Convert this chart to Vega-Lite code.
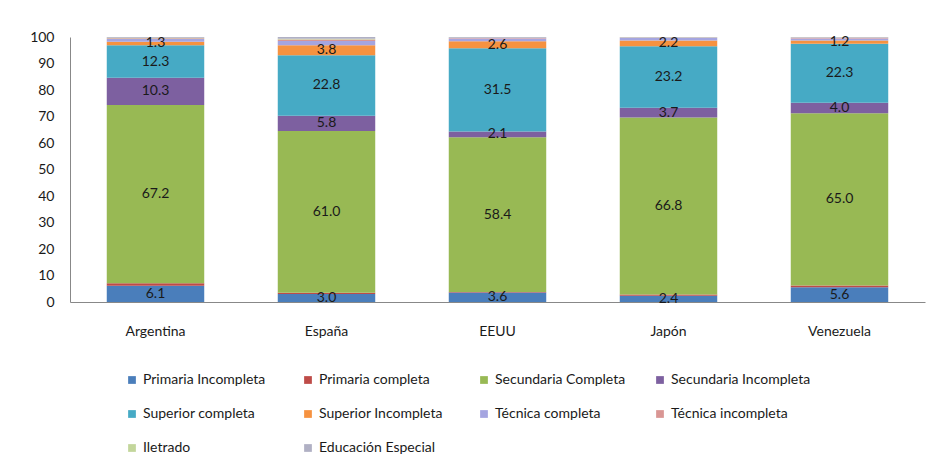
{
  "$schema": "https://vega.github.io/schema/vega-lite/v6.json",
  "width": 855,
  "height": 265,
  "autosize": {"type": "none"},
  "padding": {"left": 70, "top": 37, "right": 3, "bottom": 163},
  "background": "white",
  "config": {
    "view": {"stroke": null},
    "font": "Lato",
    "axis": {"labelFont": "Lato", "labelColor": "#1a1a1a", "labelFontSize": 14, "domainColor": "#888888", "domainWidth": 1, "ticks": false, "grid": false, "title": null, "labelOverlap": false},
    "axisY": {"domain": true, "domainColor": "#888888", "domainWidth": 1},
    "axisQuantitative": {"domain": true},
    "legend": {"labelFont": "Lato", "labelFontSize": 14, "labelColor": "#1a1a1a"}
  },
  "data": {
    "values": [
      {"country": "Argentina", "cat": "Primaria Incompleta", "ord": 1, "v": 6.1},
      {"country": "Argentina", "cat": "Primaria completa", "ord": 2, "v": 1.0},
      {"country": "Argentina", "cat": "Secundaria Completa", "ord": 3, "v": 67.2},
      {"country": "Argentina", "cat": "Secundaria Incompleta", "ord": 4, "v": 10.3},
      {"country": "Argentina", "cat": "Superior completa", "ord": 5, "v": 12.3},
      {"country": "Argentina", "cat": "Superior Incompleta", "ord": 6, "v": 1.3},
      {"country": "Argentina", "cat": "Técnica completa", "ord": 7, "v": 1.0},
      {"country": "Argentina", "cat": "Técnica incompleta", "ord": 8, "v": 0.3},
      {"country": "Argentina", "cat": "Iletrado", "ord": 9, "v": 0.2},
      {"country": "Argentina", "cat": "Educación Especial", "ord": 10, "v": 0.3},
      {"country": "España", "cat": "Primaria Incompleta", "ord": 1, "v": 3.0},
      {"country": "España", "cat": "Primaria completa", "ord": 2, "v": 0.5},
      {"country": "España", "cat": "Secundaria Completa", "ord": 3, "v": 61.0},
      {"country": "España", "cat": "Secundaria Incompleta", "ord": 4, "v": 5.8},
      {"country": "España", "cat": "Superior completa", "ord": 5, "v": 22.8},
      {"country": "España", "cat": "Superior Incompleta", "ord": 6, "v": 3.8},
      {"country": "España", "cat": "Técnica completa", "ord": 7, "v": 1.6},
      {"country": "España", "cat": "Técnica incompleta", "ord": 8, "v": 0.6},
      {"country": "España", "cat": "Iletrado", "ord": 9, "v": 0.2},
      {"country": "España", "cat": "Educación Especial", "ord": 10, "v": 0.7},
      {"country": "EEUU", "cat": "Primaria Incompleta", "ord": 1, "v": 3.6},
      {"country": "EEUU", "cat": "Primaria completa", "ord": 2, "v": 0.2},
      {"country": "EEUU", "cat": "Secundaria Completa", "ord": 3, "v": 58.4},
      {"country": "EEUU", "cat": "Secundaria Incompleta", "ord": 4, "v": 2.1},
      {"country": "EEUU", "cat": "Superior completa", "ord": 5, "v": 31.5},
      {"country": "EEUU", "cat": "Superior Incompleta", "ord": 6, "v": 2.6},
      {"country": "EEUU", "cat": "Técnica completa", "ord": 7, "v": 1.0},
      {"country": "EEUU", "cat": "Técnica incompleta", "ord": 8, "v": 0.2},
      {"country": "EEUU", "cat": "Iletrado", "ord": 9, "v": 0.1},
      {"country": "EEUU", "cat": "Educación Especial", "ord": 10, "v": 0.3},
      {"country": "Japón", "cat": "Primaria Incompleta", "ord": 1, "v": 2.4},
      {"country": "Japón", "cat": "Primaria completa", "ord": 2, "v": 0.4},
      {"country": "Japón", "cat": "Secundaria Completa", "ord": 3, "v": 66.8},
      {"country": "Japón", "cat": "Secundaria Incompleta", "ord": 4, "v": 3.7},
      {"country": "Japón", "cat": "Superior completa", "ord": 5, "v": 23.2},
      {"country": "Japón", "cat": "Superior Incompleta", "ord": 6, "v": 2.2},
      {"country": "Japón", "cat": "Técnica completa", "ord": 7, "v": 0.9},
      {"country": "Japón", "cat": "Técnica incompleta", "ord": 8, "v": 0.1},
      {"country": "Japón", "cat": "Iletrado", "ord": 9, "v": 0.1},
      {"country": "Japón", "cat": "Educación Especial", "ord": 10, "v": 0.2},
      {"country": "Venezuela", "cat": "Primaria Incompleta", "ord": 1, "v": 5.6},
      {"country": "Venezuela", "cat": "Primaria completa", "ord": 2, "v": 0.6},
      {"country": "Venezuela", "cat": "Secundaria Completa", "ord": 3, "v": 65.0},
      {"country": "Venezuela", "cat": "Secundaria Incompleta", "ord": 4, "v": 4.0},
      {"country": "Venezuela", "cat": "Superior completa", "ord": 5, "v": 22.3},
      {"country": "Venezuela", "cat": "Superior Incompleta", "ord": 6, "v": 1.2},
      {"country": "Venezuela", "cat": "Técnica completa", "ord": 7, "v": 0.7},
      {"country": "Venezuela", "cat": "Técnica incompleta", "ord": 8, "v": 0.3},
      {"country": "Venezuela", "cat": "Iletrado", "ord": 9, "v": 0.1},
      {"country": "Venezuela", "cat": "Educación Especial", "ord": 10, "v": 0.2}
    ]
  },
  "transform": [
    {"stack": "v", "groupby": ["country"], "sort": [{"field": "ord", "order": "ascending"}], "as": ["v0", "v1"]}
  ],
  "encoding": {
    "x": {
      "field": "country", "type": "nominal", "sort": ["Argentina", "España", "EEUU", "Japón", "Venezuela"],
      "scale": {"paddingInner": 0.43, "paddingOuter": 0.215},
      "axis": {"labelAngle": 0, "labelPadding": 22}
    }
  },
  "layer": [
    {
      "mark": {"type": "bar"},
      "encoding": {
        "y": {"field": "v0", "type": "quantitative", "scale": {"domain": [0, 100], "nice": false}, "axis": {"values": [0, 10, 20, 30, 40, 50, 60, 70, 80, 90, 100], "tickCount": 11, "labelPadding": 16, "domain": true, "domainColor": "#888888", "labelOverlap": false}},
        "y2": {"field": "v1"},
        "color": {
          "field": "cat", "type": "nominal",
          "scale": {
            "domain": ["Primaria Incompleta", "Primaria completa", "Secundaria Completa", "Secundaria Incompleta", "Superior completa", "Superior Incompleta", "Técnica completa", "Técnica incompleta", "Iletrado", "Educación Especial"],
            "range": ["#4a7ebb", "#be4b48", "#98b954", "#7d60a0", "#46aac5", "#f69240", "#a5a5e0", "#d99694", "#c3d69b", "#b0b0c4"]
          },
          "legend": {
            "title": null, "orient": "none", "legendX": 55, "legendY": 336, "direction": "horizontal",
            "columns": 4, "gridAlign": "all", "symbolType": "square", "symbolSize": 60, "symbolStrokeWidth": 0,
            "columnPadding": 18, "rowPadding": 20, "labelOffset": 4, "labelLimit": 200
          }
        }
      }
    },
    {
      "transform": [
        {"filter": {"field": "cat", "oneOf": ["Primaria Incompleta", "Secundaria Completa", "Secundaria Incompleta", "Superior completa", "Superior Incompleta"]}},
        {"calculate": "(datum.v0 + datum.v1) / 2", "as": "mid"}
      ],
      "mark": {"type": "text", "fontSize": 14, "color": "#1a1a1a", "baseline": "middle"},
      "encoding": {
        "y": {"field": "mid", "type": "quantitative", "axis": {"values": [0, 10, 20, 30, 40, 50, 60, 70, 80, 90, 100], "tickCount": 11, "labelPadding": 16, "domain": true, "domainColor": "#888888", "labelOverlap": false}},
        "text": {"field": "v", "type": "quantitative", "format": ".1f"}
      }
    }
  ]
}
